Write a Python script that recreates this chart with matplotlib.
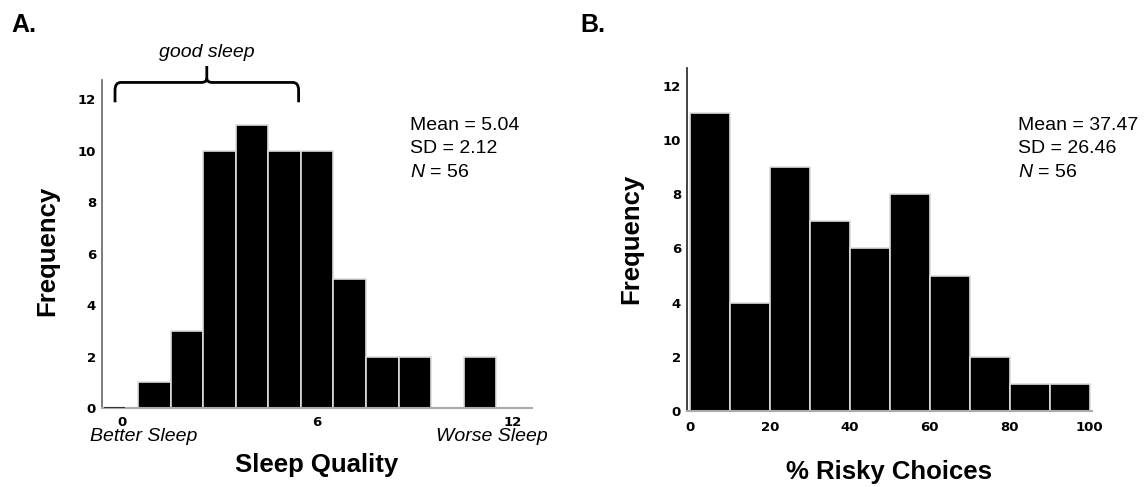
import matplotlib as mpl
mpl.use('Agg')
import matplotlib.pyplot as plt
from matplotlib.path import Path
from matplotlib.patches import PathPatch
import numpy as np

mpl.rcParams.update({
    'font.family': 'Liberation Sans',
    'mathtext.fontset': 'custom',
    'mathtext.rm': 'Liberation Sans',
    'mathtext.it': 'Liberation Sans:italic',
})

# Panel A: sleep quality histogram (bins of width 1, centred on integers)
sleep_scores = [0, 1, 2, 3, 4, 5, 6, 7, 8, 9, 10, 11]
sleep_counts = [0, 1, 3, 10, 11, 10, 10, 5, 2, 2, 0, 2]
sleep_ticks = [0, 6, 12]
sleep_stats = ["Mean = 5.04", "SD = 2.12", r"$N$ = 56"]

# Panel B: % risky choices histogram (bins of width 10)
risky_edges = [0, 10, 20, 30, 40, 50, 60, 70, 80, 90]
risky_counts = [11, 4, 9, 7, 6, 8, 5, 2, 1, 1]
risky_ticks = [0, 20, 40, 60, 80, 100]
risky_stats = ["Mean = 37.47", "SD = 26.46", r"$N$ = 56"]

freq_ticks = [0, 2, 4, 6, 8, 10, 12]

fig = plt.figure(figsize=(11.45, 4.87), dpi=100)
axA = fig.add_axes([0.0888, 0.162, 0.3758, 0.674])
axB = fig.add_axes([0.5997, 0.156, 0.354, 0.705])

tickfont = dict(family='DejaVu Sans', weight='bold', size=9.5)


def style(ax, left_color):
    for s in ['top', 'right']:
        ax.spines[s].set_visible(False)
    ax.spines['left'].set_color(left_color)
    ax.spines['bottom'].set_color('#aaaaaa')
    ax.spines['left'].set_linewidth(1.2)
    ax.spines['bottom'].set_linewidth(1.5)
    ax.tick_params(length=0)
    ax.set_yticks(freq_ticks)
    ax.set_yticklabels([str(t) for t in freq_ticks], fontdict=tickfont)


# ---- A ----
x = np.array(sleep_scores)
h = np.array(sleep_counts)
axA.bar(x[h > 0], h[h > 0], width=1.0, color='black', edgecolor='#dddddd', linewidth=1.2)
axA.hlines(0, x[0] - 0.55, x[0] + 0.1, color='#333333', lw=1.5, zorder=3)
axA.set_xlim(-0.62, 12.6)
axA.set_ylim(0, 12.75)
style(axA, '#666666')
axA.set_xticks(sleep_ticks)
axA.set_xticklabels([str(t) for t in sleep_ticks], fontdict=tickfont)
axA.tick_params(axis='x', pad=6)
axA.tick_params(axis='y', pad=4)

axA.text(-0.97, -0.088, "Better Sleep", transform=axA.get_xaxis_transform(),
         ha='left', va='center', style='italic', fontsize=14)
axA.text(13.1, -0.088, "Worse Sleep", transform=axA.get_xaxis_transform(),
         ha='right', va='center', style='italic', fontsize=14, clip_on=False)
axA.text(0.5, -0.174, "Sleep Quality", transform=axA.transAxes,
         ha='center', va='center', fontsize=18.5, weight='bold')
axA.text(-0.127, 0.48, "Frequency", transform=axA.transAxes, rotation=90,
         ha='center', va='center', fontsize=18.5, weight='bold')

for i, s in enumerate(sleep_stats):
    axA.text(0.7165, 0.862 - i * 0.0716, s, transform=axA.transAxes,
             ha='left', va='center', fontsize=14)

# brace over "good sleep"
x0, x1 = -0.21, 5.43
xm = (x0 + x1) / 2
yb, yh, yt = 11.88, 12.65, 13.29
r = 0.18
verts = [(x0, yb), (x0, yh - 0.3), (x0, yh), (x0 + r, yh),
         (xm - r, yh), (xm, yh), (xm, yh + 0.15), (xm, yt),
         (xm, yh + 0.15), (xm, yh), (xm + r, yh),
         (x1 - r, yh), (x1, yh), (x1, yh - 0.3), (x1, yb)]
codes = [Path.MOVETO, Path.LINETO, Path.CURVE3, Path.CURVE3,
         Path.LINETO, Path.CURVE3, Path.CURVE3, Path.LINETO,
         Path.MOVETO, Path.CURVE3, Path.CURVE3,
         Path.LINETO, Path.CURVE3, Path.CURVE3, Path.LINETO]
axA.add_patch(PathPatch(Path(verts, codes), fill=False, lw=2.0,
                        color='black', clip_on=False, capstyle='butt'))
axA.text(xm, 13.81, "good sleep", ha='center', va='center',
         style='italic', fontsize=14, clip_on=False)

# ---- B ----
axB.bar(risky_edges, risky_counts, width=10, align='edge', color='black',
        edgecolor='#dddddd', linewidth=1.2)
axB.set_xlim(-0.8, 100.6)
axB.set_ylim(0, 12.67)
style(axB, '#222222')
axB.set_xticks(risky_ticks)
axB.set_xticklabels([str(t) for t in risky_ticks], fontdict=tickfont)
axB.tick_params(axis='x', pad=7)
axB.tick_params(axis='y', pad=4)

axB.text(0.5, -0.178, "% Risky Choices", transform=axB.transAxes,
         ha='center', va='center', fontsize=18.5, weight='bold')
axB.text(-0.137, 0.50, "Frequency", transform=axB.transAxes, rotation=90,
         ha='center', va='center', fontsize=18.5, weight='bold')
for i, s in enumerate(risky_stats):
    axB.text(0.817, 0.833 - i * 0.0685, s, transform=axB.transAxes,
             ha='left', va='center', fontsize=14)

fig.text(11 / 1145, 1 - 13 / 487, "A.", ha='left', va='top', fontsize=18, weight='bold')
fig.text(580 / 1145, 1 - 13 / 487, "B.", ha='left', va='top', fontsize=18, weight='bold')

fig.savefig('out.png', dpi=100)
